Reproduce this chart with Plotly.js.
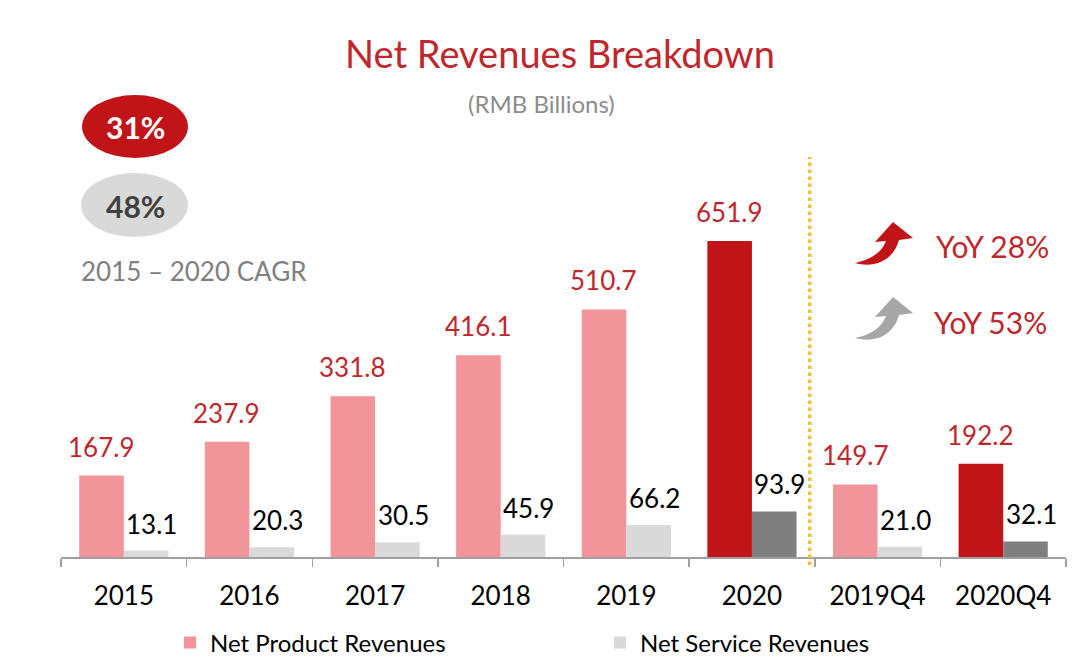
<!DOCTYPE html>
<html>
<head>
<meta charset="utf-8">
<script src="https://cdn.plot.ly/plotly-3.0.1.min.js"></script>
<style>html,body{margin:0;padding:0;background:#fff;}#chart{width:1080px;height:671px;}</style>
</head>
<body>
<div id="chart"></div>
<script>
// ---- data ----
const categories = ['2015', '2016', '2017', '2018', '2019', '2020', '2019Q4', '2020Q4'];
const productRevenues = [167.9, 237.9, 331.8, 416.1, 510.7, 651.9, 149.7, 192.2];
const serviceRevenues = [13.1, 20.3, 30.5, 45.9, 66.2, 93.9, 21.0, 32.1];
const highlighted = ['2020', '2020Q4'];
const cagrProduct = '31%';
const cagrService = '48%';
const cagrLabel = '2015 – 2020 CAGR';
const yoyProduct = 'YoY 28%';
const yoyService = 'YoY 53%';

// ---- style ----
const FONT = 'Lato, "Open Sans", sans-serif';
const RED = '#c0272d';
const W = 1080, H = 671;
const M = {l: 61, r: 14, t: 100, b: 114, autoexpand: false};
const PW = W - M.l - M.r, PH = H - M.t - M.b;
const PX_PER_UNIT = 0.4847;
const px2x = p => (p - M.l) / PW;
const py2y = p => (H - M.b - p) / PH;

const productColors = categories.map(c => highlighted.includes(c) ? '#c01418' : '#f1959b');
const serviceColors = categories.map(c => highlighted.includes(c) ? '#7f7f7f' : '#d9d9d9');

const traces = [
  {type: 'bar', name: 'Net Product Revenues', x: categories, y: productRevenues,
   marker: {color: productColors}, hoverinfo: 'x+y'},
  {type: 'bar', name: 'Net Service Revenues', x: categories, y: serviceRevenues,
   marker: {color: serviceColors}, hoverinfo: 'x+y'}
];

const annotations = [];
categories.forEach((c, i) => {
  annotations.push({x: i, y: productRevenues[i], xref: 'x', yref: 'y', text: productRevenues[i].toFixed(1),
    showarrow: false, xshift: -23, yshift: 29, xanchor: 'center', yanchor: 'middle',
    font: {family: FONT, size: 26, color: RED}});
  annotations.push({x: i, y: serviceRevenues[i], xref: 'x', yref: 'y', text: serviceRevenues[i].toFixed(1),
    showarrow: false, xshift: 28, yshift: 27, xanchor: 'center', yanchor: 'middle',
    font: {family: FONT, size: 26, color: '#000'}});
});
annotations.push(
  {xref: 'paper', yref: 'paper', x: px2x(541), y: py2y(104), text: '(RMB Billions)', showarrow: false,
   xanchor: 'center', yanchor: 'middle', font: {family: FONT, size: 24, color: '#8c8c8c'}},
  {xref: 'paper', yref: 'paper', x: px2x(135), y: py2y(127), text: '<b>' + cagrProduct + '</b>', showarrow: false,
   xanchor: 'center', yanchor: 'middle', font: {family: FONT, size: 30, color: '#ffffff'}},
  {xref: 'paper', yref: 'paper', x: px2x(135), y: py2y(206), text: '<b>' + cagrService + '</b>', showarrow: false,
   xanchor: 'center', yanchor: 'middle', font: {family: FONT, size: 30, color: '#404040'}},
  {xref: 'paper', yref: 'paper', x: px2x(194), y: py2y(271), text: cagrLabel, showarrow: false,
   xanchor: 'center', yanchor: 'middle', font: {family: FONT, size: 26, color: '#808080'}},
  {xref: 'paper', yref: 'paper', x: px2x(934), y: py2y(246), text: yoyProduct, showarrow: false,
   xanchor: 'left', yanchor: 'middle', font: {family: FONT, size: 30, color: RED}},
  {xref: 'paper', yref: 'paper', x: px2x(932), y: py2y(322), text: yoyService, showarrow: false,
   xanchor: 'left', yanchor: 'middle', font: {family: FONT, size: 30, color: RED}}
);

const arrowPath = 'M 0 5 C 18 0 38 6 44 28 L 58 30 L 38 46 L 20 26 L 31 27 C 26 14 14 8 0 5 Z';

const shapes = [
  {type: 'line', xref: 'x', yref: 'paper', x0: 5.46, x1: 5.46, y0: py2y(565), y1: py2y(157),
   line: {color: '#f2c037', width: 3.5, dash: 'dot'}},
  {type: 'circle', xref: 'paper', yref: 'paper', x0: px2x(82), x1: px2x(188), y0: py2y(158), y1: py2y(95),
   fillcolor: '#c01418', line: {width: 0}},
  {type: 'circle', xref: 'paper', yref: 'paper', x0: px2x(81), x1: px2x(188), y0: py2y(237), y1: py2y(173),
   fillcolor: '#d9d9d9', line: {width: 0}},
  {type: 'path', xref: 'paper', yref: 'paper', xsizemode: 'pixel', ysizemode: 'pixel',
   xanchor: px2x(855), yanchor: py2y(268), path: arrowPath, fillcolor: '#c01418', line: {width: 0}},
  {type: 'path', xref: 'paper', yref: 'paper', xsizemode: 'pixel', ysizemode: 'pixel',
   xanchor: px2x(855), yanchor: py2y(343), path: arrowPath, fillcolor: '#a6a6a6', line: {width: 0}}
];

const layout = {
  width: W, height: H,
  margin: M,
  paper_bgcolor: '#ffffff', plot_bgcolor: '#ffffff',
  font: {family: FONT, color: '#000'},
  title: {text: 'Net Revenues Breakdown', font: {family: FONT, size: 38, color: RED},
    x: 560 / W, xanchor: 'center', xref: 'container', y: 1 - 55 / H, yanchor: 'middle', yref: 'container'},
  barmode: 'group', bargap: 0.29, bargroupgap: 0,
  xaxis: {type: 'category', range: [-0.5, 7.5], tickson: 'boundaries', ticks: 'outside', ticklen: 8,
    tickcolor: '#a0a0a0', tickwidth: 1.5, showline: true, linecolor: '#a0a0a0', linewidth: 1.5,
    ticklabelstandoff: 15,
    showgrid: false, zeroline: false, tickfont: {family: FONT, size: 26, color: '#000'}, fixedrange: true},
  yaxis: {range: [0, PH / PX_PER_UNIT], visible: false, showgrid: false, zeroline: false, fixedrange: true},
  showlegend: true,
  legend: {orientation: 'h', x: px2x(170), y: py2y(643), xanchor: 'left', yanchor: 'middle',
    font: {family: FONT, size: 24, color: '#000'}, entrywidth: 385, traceorder: 'normal'},
  annotations: annotations,
  shapes: shapes
};

Plotly.newPlot('chart', traces, layout, {displayModeBar: false, staticPlot: true});
</script>
</body>
</html>
